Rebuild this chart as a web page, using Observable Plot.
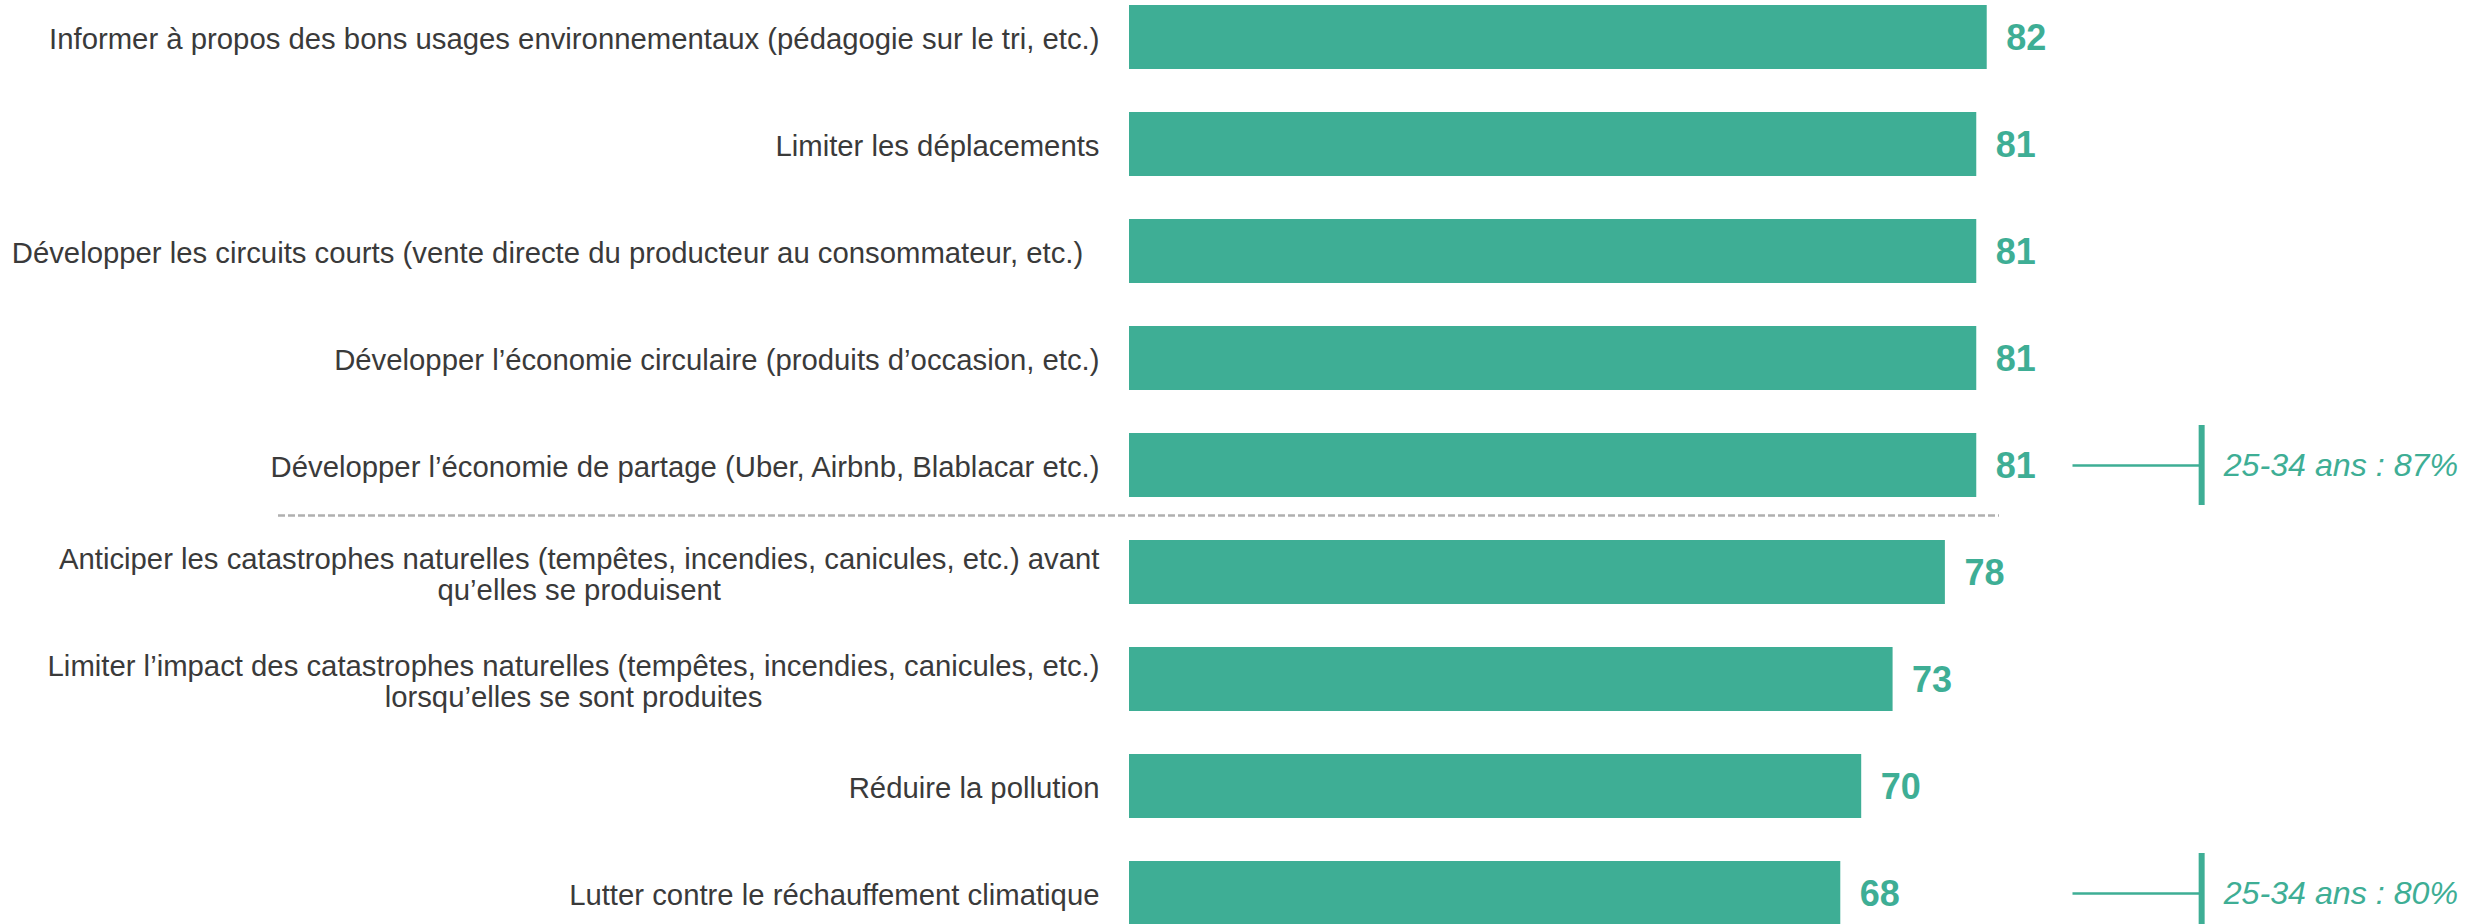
<!DOCTYPE html>
<html>
<head>
<meta charset="utf-8">
<script src="https://cdn.jsdelivr.net/npm/d3@7"></script>
<script src="https://cdn.jsdelivr.net/npm/@observablehq/plot@0.6"></script>
<style>
  html, body { margin: 0; padding: 0; background: #ffffff; overflow: hidden; }
  #chart svg { display: block; }
</style>
</head>
<body>
<div id="chart"></div>
<script>
// ---- Data ----
const labels = [
  "Informer à propos des bons usages environnementaux (pédagogie sur le tri, etc.)",
  "Limiter les déplacements",
  "Développer les circuits courts (vente directe du producteur au consommateur, etc.)\u00A0\u00A0",
  "Développer l’économie circulaire (produits d’occasion, etc.)",
  "Développer l’économie de partage (Uber, Airbnb, Blablacar etc.)",
  "Anticiper les catastrophes naturelles (tempêtes, incendies, canicules, etc.) avant\nqu’elles se produisent",
  "Limiter l’impact des catastrophes naturelles (tempêtes, incendies, canicules, etc.)\nlorsqu’elles se sont produites",
  "Réduire la pollution",
  "Lutter contre le réchauffement climatique"
];
const values = [82, 81, 81, 81, 81, 78, 73, 70, 68];

// Callouts (sub-group results)
const calloutRows = [4, 8];
const calloutTexts = ["25-34 ans : 87%", "25-34 ans : 80%"];

// Separator drawn after this row index
const separatorAfter = 4;

// ---- Build tables ----
const rows = labels.map((label, i) => ({label, value: values[i]}));
const callouts = calloutRows.map((r, i) => ({label: labels[r], text: calloutTexts[i]}));

// ---- Style / layout ----
const teal = "#3eae95";
const textColor = "#3a3a3a";
const font = "'Liberation Sans', Arial, sans-serif";
const bracketX = 102.5;   // callout bracket position, in value units
const leaderStart = 90.2; // callout leader start, in value units

const chart = Plot.plot({
  width: 2486,
  height: 924,
  marginLeft: 278,
  marginRight: 487,
  marginTop: 0,
  marginBottom: 0,
  style: {fontFamily: font, background: "#ffffff", overflow: "hidden"},
  x: {domain: [0, 100], range: [1129, 2175], axis: null},
  y: {domain: labels, range: [-38.8, 969.8], padding: 0.4, axis: null},
  marks: [
    Plot.barX(rows, {y: "label", x: "value", fill: teal}),
    Plot.text(rows, {
      y: "label", x: 0, text: "label", textAnchor: "end", dx: -30, dy: 2,
      fontSize: 29.3, fill: textColor, lineHeight: 1.04
    }),
    Plot.text(rows, {
      y: "label", x: "value", text: d => String(d.value), textAnchor: "start", dx: 19, dy: 1,
      fontSize: 36, fontWeight: "bold", fill: teal
    }),
    Plot.ruleY([labels[separatorAfter]], {
      y: d => d, dy: 50, stroke: "#b0b0b0", strokeWidth: 2.5, strokeDasharray: "7,3"
    }),
    Plot.ruleY(callouts, {y: "label", x1: leaderStart, x2: bracketX, stroke: teal, strokeWidth: 2.5}),
    Plot.tickX(callouts, {y: "label", x: bracketX, stroke: teal, strokeWidth: 6, insetTop: -8, insetBottom: -8}),
    Plot.text(callouts, {
      y: "label", x: bracketX, text: "text", textAnchor: "start", dx: 22,
      fontSize: 32.2, fontStyle: "italic", fill: teal
    })
  ]
});

document.getElementById("chart").appendChild(chart);

// Center the wrapped lines of multi-line labels under their first line (as in the reference)
chart.querySelectorAll("text").forEach(t => {
  const spans = t.querySelectorAll("tspan");
  if (spans.length > 1) {
    const w = spans[0].getComputedTextLength();
    t.setAttribute("text-anchor", "middle");
    spans.forEach(s => s.setAttribute("x", -w / 2));
  }
});
</script>
</body>
</html>
